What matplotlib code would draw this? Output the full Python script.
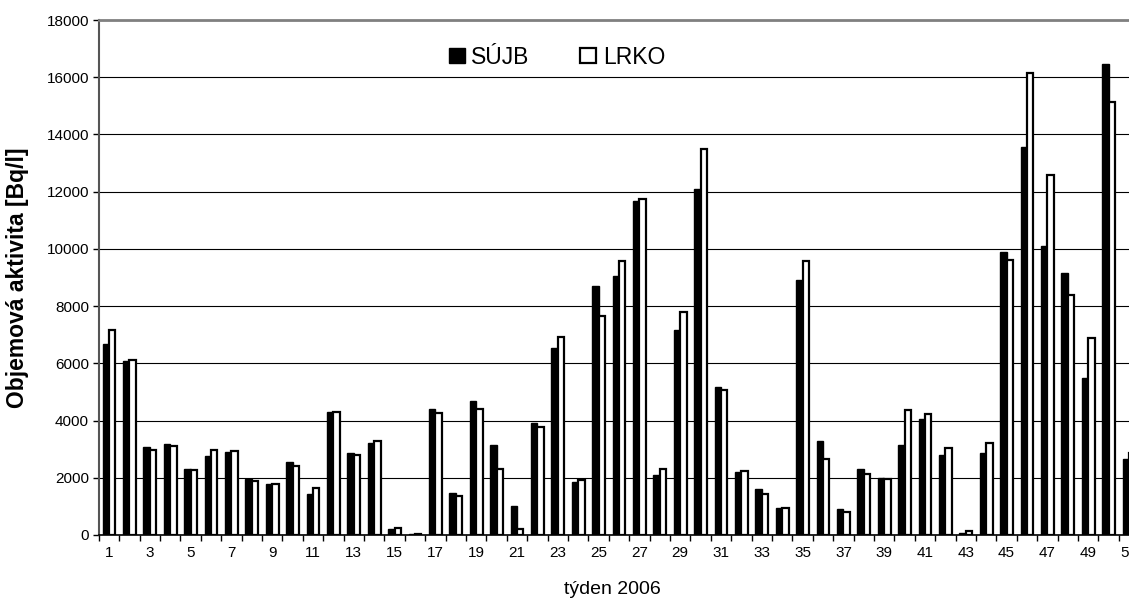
import numpy as np
import matplotlib.pyplot as plt

plt.rcParams['font.family'] = ['Liberation Sans', 'DejaVu Sans']

# tydny 1-51
tydny = np.arange(1, 52)

sujb = [6690, 6090, 3060, 3190, 2310, 2750, 2900, 1960, 1775, 2540,
        1440, 4290, 2875, 3210, 210, 40, 4400, 1475, 4690, 3150,
        1010, 3910, 6540, 1850, 8690, 9060, 11660, 2100, 7160, 12110,
        5160, 2210, 1600, 960, 8900, 3290, 900, 2310, 2000, 3150,
        4040, 2790, 75, 2875, 9875, 13560, 10100, 9150, 5500, 16475,
        2650]

lrko = [7160, 6110, 2975, 3110, 2260, 2960, 2940, 1875, 1790, 2400,
        1660, 4290, 2790, 3275, 250, 20, 4275, 1350, 4410, 2310,
        225, 3790, 6910, 1910, 7660, 9560, 11750, 2310, 7810, 13500,
        5060, 2250, 1425, 960, 9590, 2660, 790, 2125, 1940, 4375,
        4225, 3040, 125, 3210, 9600, 16150, 12575, 8375, 6900, 15125,
        2850]

fig = plt.figure(figsize=(11.29, 6.03), dpi=100)
# osa presahuje pravy okraj obrazku (tyden 51 je oriznuty)
ax = fig.add_axes([98.8 / 1129, 68 / 603, 1060.8 / 1129, 515 / 603])

w = 0.31
ax.bar(tydny - w / 2, sujb, width=w, color='black', edgecolor='black',
       linewidth=1.0, label='SÚJB', zorder=3)
ax.bar(tydny + w / 2, lrko, width=w, color='white', edgecolor='black',
       linewidth=1.6, label='LRKO', zorder=3)

ax.set_xlim(0.5, 52.5)
ax.set_ylim(0, 18000)
ax.set_yticks(np.arange(0, 18001, 2000))
ax.yaxis.grid(True, color='black', linewidth=0.8, zorder=0)

ax.set_xticks(np.arange(1, 52, 2))
ax.set_xticks(np.arange(0.5, 52, 1), minor=True)
ax.tick_params(axis='x', which='major', length=0, pad=8, labelsize=11)
ax.tick_params(axis='x', which='minor', length=4, width=1, direction='out')
ax.tick_params(axis='y', length=4, width=1, direction='out', labelsize=11, pad=3)

ax.spines['top'].set_color('#808080')
ax.spines['top'].set_linewidth(2)
ax.spines['left'].set_color('#555555')
ax.spines['left'].set_linewidth(1.5)
ax.spines['bottom'].set_color('black')
ax.spines['bottom'].set_linewidth(1.2)
ax.spines['right'].set_visible(False)

ax.set_xlabel('týden 2006', fontsize=14)
ax.xaxis.set_label_coords(0.484, -0.089)
ax.set_ylabel('Objemová aktivita [Bq/l]', fontsize=16.5, fontweight='bold')
ax.yaxis.set_label_coords(-0.066, 0.5)

ax.legend(loc='center', bbox_to_anchor=(0.432, 0.928), ncol=2, frameon=False,
          fontsize=16.5, handlelength=0.68, handleheight=0.68, handletextpad=0.3,
          columnspacing=2.2)

fig.savefig('out.png', dpi=100)
